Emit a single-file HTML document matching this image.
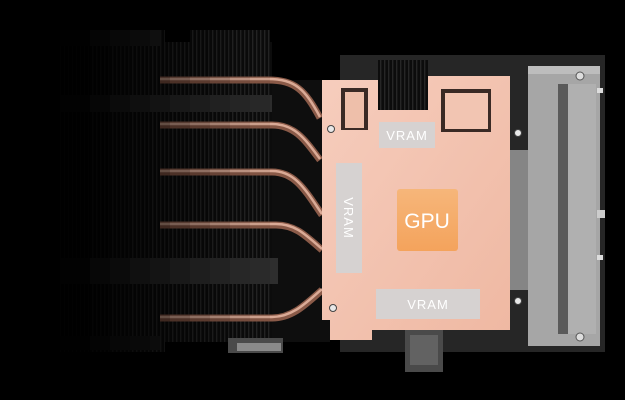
<!DOCTYPE html>
<html><head><style>
html,body{margin:0;padding:0;background:#000;}
svg{display:block;}
text{font-family:"Liberation Sans",sans-serif;}
</style></head><body>
<svg width="625" height="400" viewBox="0 0 625 400" xmlns="http://www.w3.org/2000/svg">
<defs>
<pattern id="fins" width="4" height="10" patternUnits="userSpaceOnUse">
<rect width="4" height="10" fill="#0c0c0c"/>
<rect x="0" width="1.4" height="10" fill="#262626"/>
</pattern>
<linearGradient id="copper" x1="0" x2="1" y1="0" y2="1">
<stop offset="0" stop-color="#f6cdbd"/>
<stop offset="1" stop-color="#efb8a2"/>
</linearGradient>
<linearGradient id="gpu" x1="0" x2="0" y1="0" y2="1">
<stop offset="0" stop-color="#f6b67a"/>
<stop offset="1" stop-color="#f4a35c"/>
</linearGradient>
</defs>
<rect width="625" height="400" fill="#000"/>
<rect x="340" y="55" width="265" height="297" fill="#262626"/>
<rect x="270" y="80" width="60" height="262" fill="#0e0e0e"/>
<rect x="60" y="30" width="105" height="322" fill="url(#fins)"/>
<rect x="160" y="42" width="112" height="300" fill="url(#fins)"/>
<rect x="190" y="30" width="80" height="20" fill="url(#fins)"/>
<rect x="60" y="30" width="100" height="16" fill="#222"/>
<rect x="60" y="95" width="212" height="17" fill="#2c2c2c"/>
<rect x="60" y="258" width="218" height="26" fill="#2e2e2e"/>
<rect x="60" y="336" width="100" height="14" fill="#1c1c1c"/>
<g stroke-width="7" fill="none" stroke="#8a5a48">
<path d="M160 80 H268 C295 80 305 90 320 118"/>
<path d="M160 125 H272 C295 125 305 140 320 160"/>
<path d="M160 172 H272 C295 172 305 190 322 215"/>
<path d="M160 225 H276 C295 225 305 235 322 250"/>
<path d="M160 318 H272 C292 318 305 305 322 290"/>
</g>
<g stroke-width="2.5" fill="none" stroke="#e8b9a4" opacity="0.85">
<path d="M160 79 H268 C295 79 305 89 320 117"/>
<path d="M160 124 H272 C295 124 305 139 320 159"/>
<path d="M160 171 H272 C295 171 305 189 322 214"/>
<path d="M160 224 H276 C295 224 305 234 322 249"/>
<path d="M160 317 H272 C292 317 305 304 322 289"/>
</g>
<!-- fade overlay strips -->
<g fill="#000">
<rect x="0" y="0" width="90" height="400" fill-opacity="0.95"/>
<rect x="90" y="0" width="20" height="400" fill-opacity="0.85"/>
<rect x="110" y="0" width="20" height="400" fill-opacity="0.75"/>
<rect x="130" y="0" width="20" height="400" fill-opacity="0.65"/>
<rect x="150" y="0" width="20" height="400" fill-opacity="0.55"/>
<rect x="170" y="0" width="20" height="400" fill-opacity="0.45"/>
<rect x="190" y="0" width="20" height="400" fill-opacity="0.35"/>
<rect x="210" y="0" width="20" height="400" fill-opacity="0.25"/>
<rect x="230" y="0" width="20" height="400" fill-opacity="0.15"/>
<rect x="250" y="0" width="20" height="400" fill-opacity="0.07"/>
</g>
<rect x="228" y="338" width="55" height="15" fill="#4a4a4a"/>
<rect x="237" y="343" width="44" height="8" fill="#8a8a8a"/>
<rect x="405" y="330" width="38" height="42" fill="#4a4a4a"/>
<rect x="410" y="335" width="28" height="30" fill="#626262"/>
<rect x="505" y="150" width="25" height="140" fill="#858585"/>
<rect x="528" y="66" width="72" height="280" fill="#a6a6a6"/>
<rect x="528" y="66" width="72" height="8" fill="#bdbdbd"/>
<rect x="558" y="84" width="10" height="250" fill="#5a5a5a"/>
<rect x="568" y="84" width="28" height="250" fill="#b0b0b0"/>
<rect x="597" y="88" width="6" height="5" fill="#ddd"/>
<rect x="597" y="210" width="8" height="8" fill="#ccc"/>
<rect x="597" y="255" width="6" height="5" fill="#ddd"/>
<circle cx="580" cy="76" r="4" fill="#ddd" stroke="#555"/>
<circle cx="580" cy="337" r="4" fill="#ddd" stroke="#555"/>
<path d="M322 80 H378 V110 H428 V76 H510 V330 H372 V340 H330 V320 H322 Z" fill="url(#copper)"/>
<rect x="341" y="88" width="27" height="42" fill="#3a2a25"/>
<rect x="345" y="92" width="19" height="36" fill="#eebfaa"/>
<rect x="441" y="89" width="50" height="43" fill="#3a2a25"/>
<rect x="445" y="93" width="43" height="36" fill="#f2c5b2"/>
<rect x="378" y="60" width="50" height="50" fill="url(#fins)"/>
<g fill="#e8e8e8" stroke="#444" stroke-width="1">
<circle cx="331" cy="129" r="3.5"/><circle cx="518" cy="133" r="3.5"/>
<circle cx="333" cy="308" r="3.5"/><circle cx="518" cy="301" r="3.5"/>
</g>
<rect x="379" y="122" width="56" height="26" fill="#d6d2d1"/>
<text x="407" y="140" font-size="13" fill="#fff" text-anchor="middle" letter-spacing="1">VRAM</text>
<rect x="336" y="163" width="26" height="110" fill="#d6d2d1"/>
<text transform="translate(344 218) rotate(90)" font-size="13" fill="#fff" text-anchor="middle" letter-spacing="1">VRAM</text>
<rect x="376" y="289" width="104" height="30" fill="#d6d2d1"/>
<text x="428" y="309" font-size="13" fill="#fff" text-anchor="middle" letter-spacing="1">VRAM</text>
<rect x="397" y="189" width="61" height="62" rx="3" fill="url(#gpu)"/>
<text x="427" y="228" font-size="21" fill="#fff" text-anchor="middle">GPU</text>
</svg>
</body></html>
